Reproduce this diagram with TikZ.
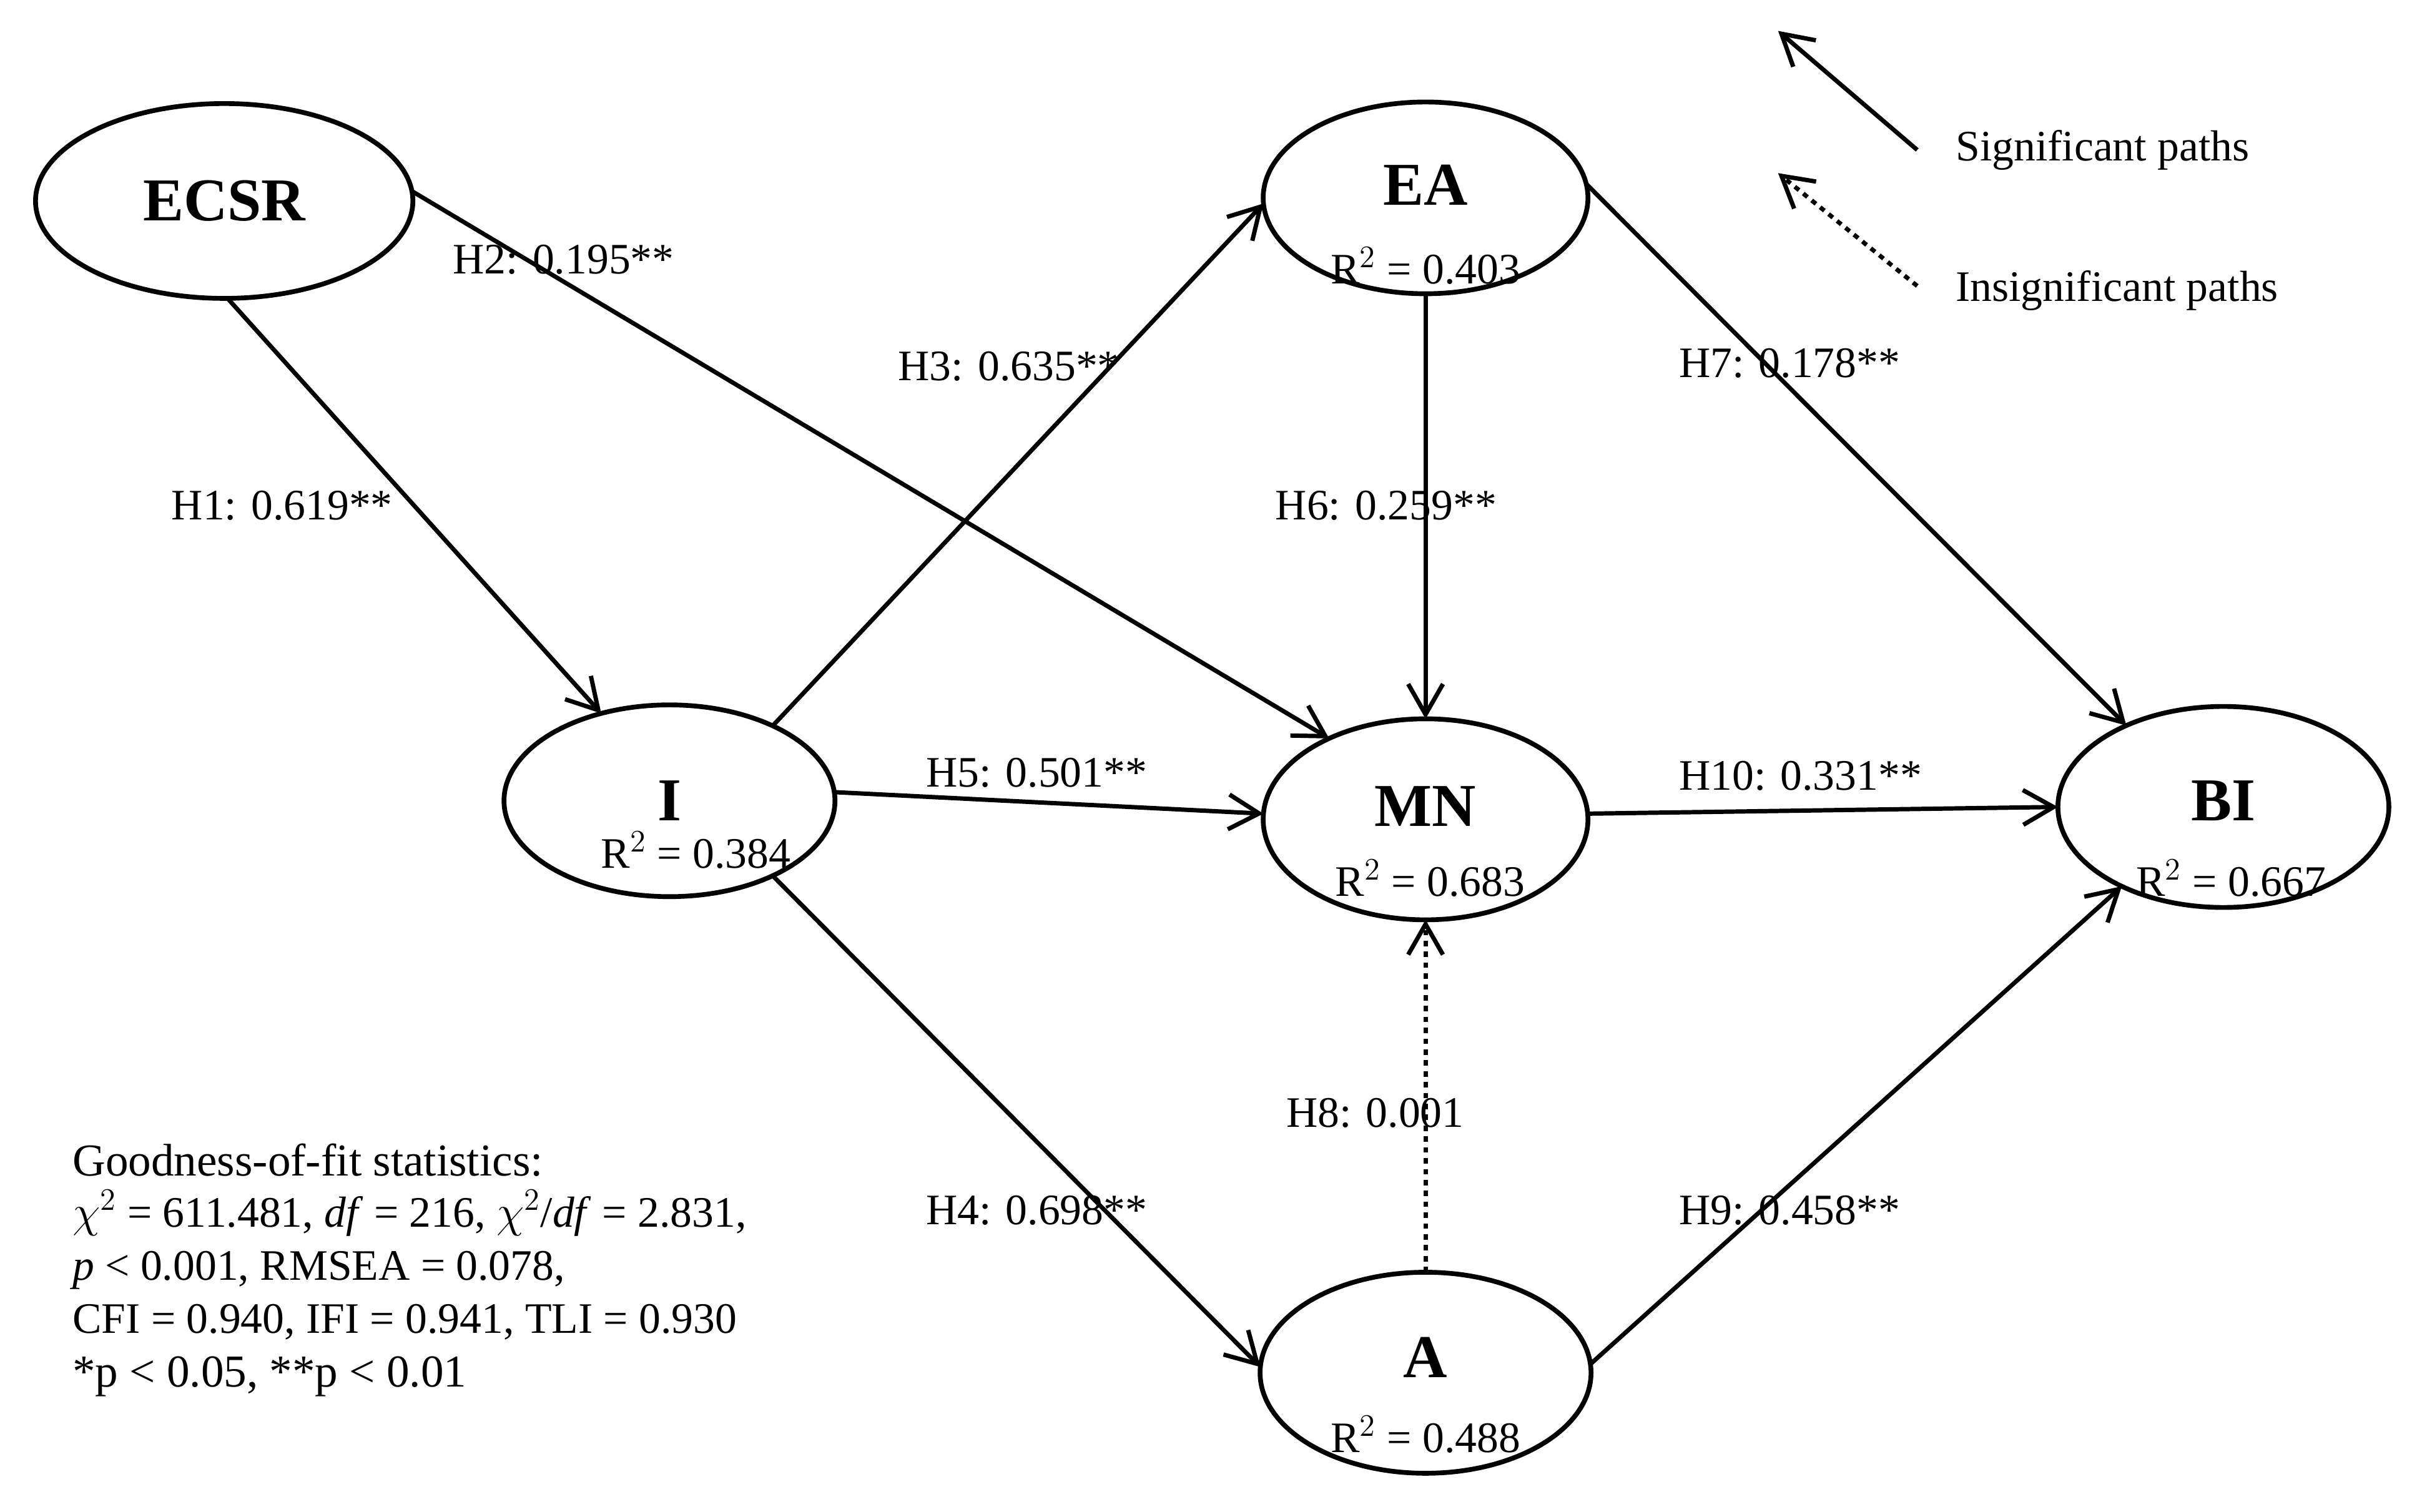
\documentclass[tikz,border=0pt]{standalone}
\usepackage{fontspec}
\setmainfont{Liberation Serif}
\usetikzlibrary{shapes.geometric,arrows.meta}
\begin{document}
\begin{tikzpicture}[x=0.025cm,y=-0.025cm,
 lv/.style={ellipse,draw,line width=2.2pt,inner sep=0pt,outer sep=0pt,font=\fontsize{28}{32}\selectfont\bfseries},
 r2/.style={font=\fontsize{20}{24}\selectfont},
 lab/.style={font=\fontsize{20}{24}\selectfont,anchor=west},
 pth/.style={line width=2pt,-{Straight Barb[length=14pt,width=16pt,line width=2pt]}},
 dot/.style={pth,dash pattern=on 2.5pt off 2.5pt}]
\useasboundingbox (0,0) rectangle (1560,978);
\node[lv,minimum width=6.1cm,minimum height=3.15cm] (ECSR) at (145,130) {ECSR};
\node[lv,minimum width=5.25cm,minimum height=3.1cm] (EA) at (922,128) {\raisebox{12pt}{EA}};
\node[lv,minimum width=5.35cm,minimum height=3.1cm] (I) at (433,518) {I};
\node[lv,minimum width=5.25cm,minimum height=3.25cm] (MN) at (922,530) {\raisebox{12pt}{MN}};
\node[lv,minimum width=5.35cm,minimum height=3.25cm] (BI) at (1438,522) {\raisebox{6pt}{BI}};
\node[lv,minimum width=5.35cm,minimum height=3.25cm] (A) at (922,888) {\raisebox{14pt}{A}};
\node[r2] (rEA) at (922,172) {R$^2$ = 0.403};
\node[r2] (rI) at (450,550) {R$^2$ = 0.384};
\node[r2] (rMN) at (925,568) {R$^2$ = 0.683};
\node[r2] (rBI) at (1443,568) {R$^2$ = 0.667};
\node[r2] (rA) at (922,928) {R$^2$ = 0.488};
\draw[pth] (ECSR.-88) -- (I.128);
\draw[pth] (ECSR.3) -- (MN.140);
\draw[pth] (I.36) -- (EA.182);
\draw[pth] (I.3) -- (MN.178);
\draw[pth] (I.-36) -- (A.178);
\draw[pth] (EA.south) -- (MN.north);
\draw[pth] (EA.5) -- (BI.140);
\draw[pth] (MN.2) -- (BI.180);
\draw[pth] (A.3) -- (BI.218);
\draw[dot] (A.north) -- (MN.south);
\node[lab] (l1) at (106,327) {H1: 0.619**};
\node[lab] (l2) at (288,168) {H2: 0.195**};
\node[lab] (l3) at (576,237) {H3: 0.635**};
\node[lab] (l4) at (594,783) {H4: 0.698**};
\node[lab] (l5) at (594,500) {H5: 0.501**};
\node[lab] (l6) at (820,327) {H6: 0.259**};
\node[lab] (l7) at (1081,235) {H7: 0.178**};
\node[lab] (l8) at (827,720) {H8: 0.001};
\node[lab] (l9) at (1081,783) {H9: 0.458**};
\node[lab] (l10) at (1081,502) {H10: 0.331**};
\coordinate (s1) at (1240,97); \coordinate (s2) at (1150,20);
\coordinate (d1) at (1240,185); \coordinate (d2) at (1150,112);
\draw[pth] (s1) -- (s2);
\draw[dot] (d1) -- (d2);
\node[lab] (sig) at (1260,97) {Significant paths};
\node[lab] (ins) at (1260,188) {Insignificant paths};
\node[font=\fontsize{21}{24}\selectfont,anchor=north west] (gof) at (42,735) {Goodness-of-fit statistics:};
\node[font=\fontsize{20}{24.5}\selectfont,anchor=north west,align=left] (gof2) at (42,765)
 {$\chi^2$ = 611.481, \textit{df} = 216, $\chi^2$/\textit{df} = 2.831,\\
  \textit{p} < 0.001, RMSEA = 0.078,\\
  CFI = 0.940, IFI = 0.941, TLI = 0.930\\
  {\fontsize{21}{24}\selectfont *p < 0.05, **p < 0.01}};
\end{tikzpicture}
\end{document}
